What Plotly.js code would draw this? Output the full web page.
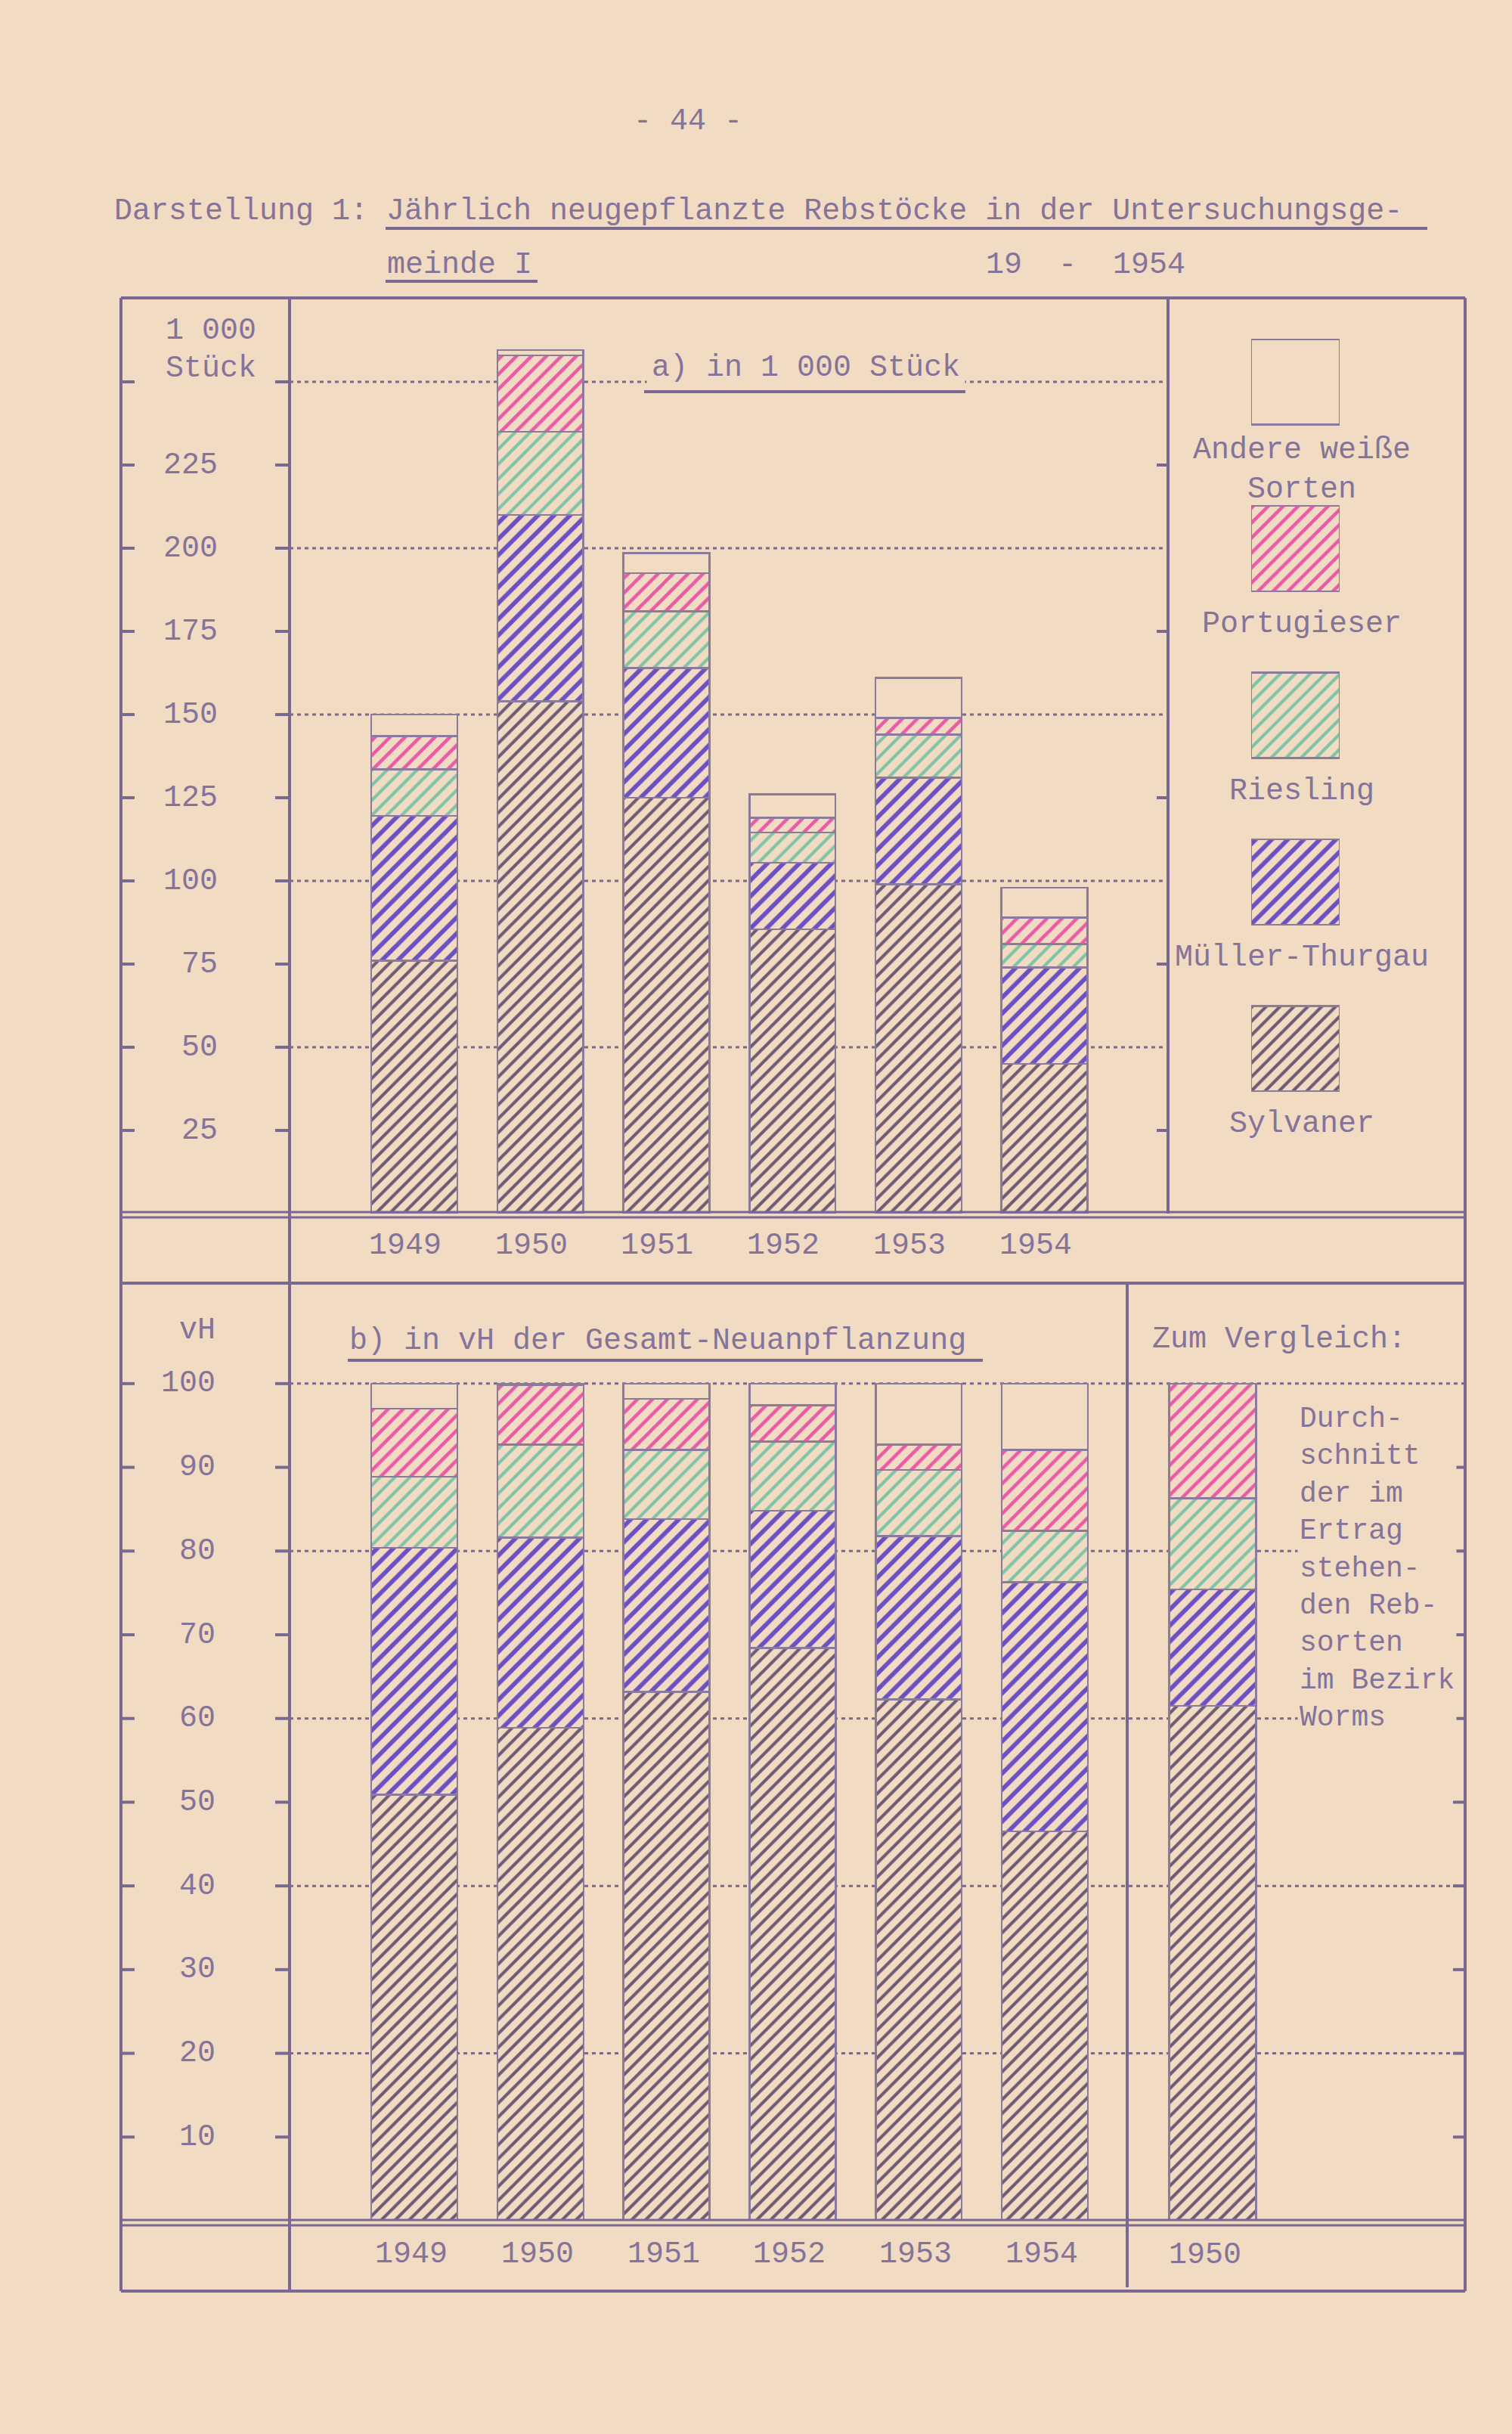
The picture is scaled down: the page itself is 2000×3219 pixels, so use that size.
<!DOCTYPE html>
<html>
<head>
<meta charset="utf-8">
<script src="https://cdn.plot.ly/plotly-3.0.1.min.js"></script>
<style>
  body { margin: 0; background: #f1dbc3; }
  #chart { width: 2000px; height: 3219px; }
</style>
</head>
<body>
<div id="chart"></div>
<script>
// --- data -------------------------------------------------------------

const years = ["1949", "1950", "1951", "1952", "1953", "1954"];
const varieties = ["Sylvaner", "Müller-Thurgau", "Riesling", "Portugieser", "Andere weiße Sorten"];

// a) in 1 000 Stück
const sylvanerAbs    = [76, 154, 125, 85.5, 99, 45];
const muellerAbs     = [43.5, 56, 39, 20, 32, 29];
const rieslingAbs    = [14, 25, 17, 9, 13, 7];
const portugieserAbs = [10, 23, 11.5, 4.5, 5, 8];
const andereAbs      = [6.5, 1.5, 6, 7, 12, 9];

// b) in vH der Gesamt-Neuanpflanzung
const sylvanerPct    = [50.9, 58.9, 63.2, 68.4, 62.3, 46.5];
const muellerPct     = [29.5, 22.7, 20.6, 16.4, 19.5, 29.8];
const rieslingPct    = [8.5, 11.1, 8.3, 8.3, 7.9, 6.1];
const portugieserPct = [8.1, 7.1, 6.1, 4.3, 3.0, 9.7];
const anderePct      = [3.0, 0.2, 1.8, 2.6, 7.3, 7.9];

// Zum Vergleich: Durchschnitt der im Ertrag stehenden Rebsorten im Bezirk Worms
const compareYear = ["1950"];
const wormsPct = [61.5, 13.9, 10.9, 13.7, 0];

const absSeries = [sylvanerAbs, muellerAbs, rieslingAbs, portugieserAbs, andereAbs];
const pctSeries = [sylvanerPct, muellerPct, rieslingPct, portugieserPct, anderePct];

const yTicksAbs = [25, 50, 75, 100, 125, 150, 175, 200, 225];
const yGridAbs = [50, 100, 150, 200, 250];
const yUnitAbs = ["1 000", "Stück"];
const yTicksPct = [10, 20, 30, 40, 50, 60, 70, 80, 90, 100];
const yGridPct = [20, 40, 60, 80, 100];
const legendLabels = ["Sylvaner", "Müller-Thurgau", "Riesling", "Portugieser", "Andere weiße<br>Sorten"];
const compareText = ["Durch-", "schnitt", "der im", "Ertrag", "stehen-", "den Reb-", "sorten", "im Bezirk", "Worms"];

// --- styles -----------------------------------------------------------

const PAPER = "#f1dbc3";
const INK = "#7a6890";
const TEXT = "#85739a";
const OUTLINE = "#8a7a9c";
const hatchColors = ["#6e5a74", "#6c50c2", "#7fc4a6", "#ea5aa6", null];
const hatchSizes = [13, 15, 14, 14, 0];
const hatchSolid = [0.32, 0.38, 0.3, 0.32, 0];

const W = 2000, H = 3219;
const px = x => x / W;
const py = y => 1 - y / H;

// --- traces -----------------------------------------------------------

let marker = function(i) {
  let m = {
    color: PAPER,
    line: {color: OUTLINE, width: 2.5}
  };
  if (hatchColors[i]) {
    m.pattern = {
      shape: "/",
      fgcolor: hatchColors[i],
      bgcolor: PAPER,
      size: hatchSizes[i],
      solidity: hatchSolid[i],
      fillmode: "replace"
    };
  }
  return m;
};

let data = [];
varieties.map((name, i) => {
  // a) absolute
  data.push({
    type: "bar", name: name, x: years, y: absSeries[i],
    xaxis: "x", yaxis: "y", width: 0.683,
    marker: marker(i), hoverinfo: "none"
  });
  // b) percent
  data.push({
    type: "bar", name: name, x: years, y: pctSeries[i],
    xaxis: "x2", yaxis: "y2", width: 0.683,
    marker: marker(i), hoverinfo: "none"
  });
  // comparison
  data.push({
    type: "bar", name: name, x: compareYear, y: [wormsPct[i]],
    xaxis: "x3", yaxis: "y2", width: 0.69,
    marker: marker(i), hoverinfo: "none"
  });
  // legend box
  data.push({
    type: "bar", orientation: "h", name: name, x: [1], y: [name], base: 0,
    xaxis: "x4", yaxis: "y4", width: 0.512,
    marker: marker(i), hoverinfo: "none"
  });
});

// --- shapes -----------------------------------------------------------

let shapes = [];
let line = function(x0, y0, x1, y1, w) {
  shapes.push({
    type: "line", xref: "paper", yref: "paper",
    x0: px(x0), y0: py(y0), x1: px(x1), y1: py(y1),
    line: {color: INK, width: w || 4}
  });
};

// outer frame and dividers
line(160, 394, 1938, 394);
line(160, 394, 160, 3030);
line(383, 394, 383, 3030);
line(1545, 394, 1545, 1605);
line(1938, 394, 1938, 3030);
line(160, 1603, 1938, 1603, 3);
line(160, 1610, 1938, 1610, 3);
line(160, 1697, 1938, 1697);
line(1491, 1697, 1491, 3025);
line(160, 2936, 1938, 2936, 3);
line(160, 2943, 1938, 2943, 3);
line(160, 3030, 1938, 3030);

// underlines
line(510, 302, 1888, 302, 4);
line(510, 372, 711, 372, 4);
line(852, 518, 1277, 518, 4);
line(460, 1799, 1300, 1799, 4);

let tick = function(x0, x1, yref, v) {
  shapes.push({
    type: "line", xref: "paper", yref: yref,
    x0: px(x0), x1: px(x1), y0: v, y1: v,
    line: {color: INK, width: 4}
  });
};
let grid = function(x0, x1, yref, v) {
  shapes.push({
    type: "line", xref: "paper", yref: yref, layer: "below",
    x0: px(x0), x1: px(x1), y0: v, y1: v,
    line: {color: INK, width: 3, dash: "5px,5px"}
  });
};

yTicksAbs.concat([250]).map(v => {
  tick(160, 178, "y", v);
  tick(364, 383, "y", v);
});
yTicksAbs.filter(v => v % 50 != 0).map(v => tick(1530, 1545, "y", v));
yGridAbs.map(v => grid(383, 1545, "y", v));

yTicksPct.map(v => {
  tick(160, 178, "y2", v);
  tick(364, 383, "y2", v);
  if (v < 100) tick(1922, 1938, "y2", v);
});
yGridPct.map(v => grid(383, 1938, "y2", v));

// --- annotations ------------------------------------------------------

let annotations = [];
let note = function(o) {
  annotations.push(Object.assign({showarrow: false, xanchor: "center", yanchor: "middle"}, o));
};

// header
note({xref: "paper", yref: "paper", x: px(910), y: py(160), text: "- 44 -"});
note({xref: "paper", yref: "paper", x: px(149), y: py(280), xanchor: "left",
  text: "Darstellung 1: Jährlich neugepflanzte Rebstöcke in der Untersuchungsge-"});
note({xref: "paper", yref: "paper", x: px(510), y: py(350), xanchor: "left", text: "meinde I"});
note({xref: "paper", yref: "paper", x: px(1302), y: py(350), xanchor: "left",
  text: "19\u00a0\u00a0-\u00a0\u00a01954"});

// section titles
note({xref: "paper", yref: "paper", x: px(855), y: py(487), xanchor: "left",
  text: "a) in 1 000 Stück", bgcolor: PAPER, borderpad: 6});
note({xref: "paper", yref: "paper", x: px(460), y: py(1774), xanchor: "left",
  text: "b) in vH der Gesamt-Neuanpflanzung"});
note({xref: "paper", yref: "paper", x: px(1522), y: py(1771), xanchor: "left",
  text: "Zum Vergleich:"});

// y labels
yTicksAbs.map(v => note({xref: "paper", yref: "y", x: px(290), y: v, xanchor: "right", text: String(v)}));
yUnitAbs.map((t, i) => note({xref: "paper", yref: "y", x: px(341), y: 250, xanchor: "right",
  yshift: 68 - 50 * i, text: t}));
yTicksPct.map(v => note({xref: "paper", yref: "y2", x: px(287), y: v, xanchor: "right", text: String(v)}));
note({xref: "paper", yref: "paper", x: px(287), y: py(1760), xanchor: "right", text: "vH"});

// year labels (category axes take the category index)
years.map((yr, i) => {
  note({xref: "x", yref: "paper", x: i, y: py(1647), xshift: -12, text: yr});
  note({xref: "x2", yref: "paper", x: i, y: py(2981), xshift: -4, text: yr});
});
compareYear.map((yr, i) => note({xref: "x3", yref: "paper", x: i, y: py(2982), xshift: -10, text: yr}));

// legend labels
legendLabels.map((lab, i) => {
  let lines = lab.split("<br>").length;
  note({
    xref: "paper", yref: "y4", x: px(1722), y: i,
    yshift: -100 - 16 * (lines - 1), text: lab
  });
});

// comparison explanation
note({
  xref: "paper", yref: "paper", x: px(1716), y: py(1852),
  xanchor: "left", yanchor: "top", align: "left",
  text: compareText.join("<br>"), font: {size: 38},
  bgcolor: PAPER, borderpad: 2
});

// --- layout -----------------------------------------------------------

let hidden = {
  showgrid: false, zeroline: false, showline: false,
  showticklabels: false, ticks: "", fixedrange: true
};

let layout = {
  width: W,
  height: H,
  margin: {l: 0, r: 0, t: 0, b: 0},
  paper_bgcolor: PAPER,
  plot_bgcolor: "rgba(0,0,0,0)",
  showlegend: false,
  barmode: "stack",
  font: {family: "Liberation Mono, DejaVu Sans Mono, monospace", size: 40, color: TEXT},
  xaxis: Object.assign({}, hidden, {
    type: "category", domain: [px(383), px(1545)], range: [-0.99, 5.98], anchor: "y"
  }),
  yaxis: Object.assign({}, hidden, {
    domain: [py(1605), py(395)], range: [0, 275], anchor: "x"
  }),
  xaxis2: Object.assign({}, hidden, {
    type: "category", domain: [px(383), px(1491)], range: [-0.989, 5.653], anchor: "y2"
  }),
  yaxis2: Object.assign({}, hidden, {
    domain: [py(2937), py(1697)], range: [0, 112], anchor: "x2"
  }),
  xaxis3: Object.assign({}, hidden, {
    type: "category", domain: [px(1491), px(1938)], range: [-0.677, 2.002], anchor: "y2"
  }),
  xaxis4: Object.assign({}, hidden, {
    domain: [px(1655), px(1772)], range: [0, 1], anchor: "y4"
  }),
  yaxis4: Object.assign({}, hidden, {
    type: "category", categoryorder: "array", categoryarray: varieties,
    domain: [py(1497), py(395)], range: [-0.5, 4.5], anchor: "x4"
  }),
  shapes: shapes,
  annotations: annotations
};

Plotly.newPlot("chart", data, layout, {displayModeBar: false, staticPlot: true});
</script>
</body>
</html>
